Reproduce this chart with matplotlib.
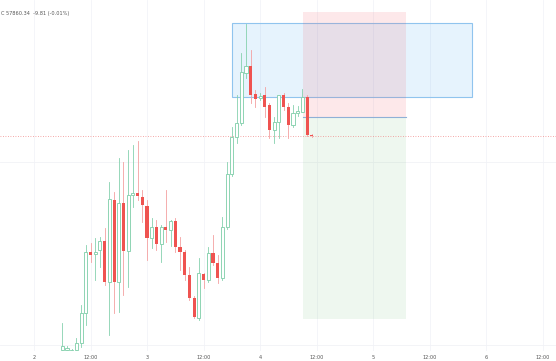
import numpy as np
import matplotlib.pyplot as plt
from matplotlib.patches import Rectangle

# hourly candles, hour counted from day 2 00:00
hours = np.arange(6, 60)
opens = [55720, 55720, 55700, 55720, 55790, 56090, 56700, 56680, 56720, 56810,
         56400, 57220, 56400, 57190, 56710, 57270, 57290, 57250, 57160, 56840,
         56950, 56780, 56950, 56920, 57010, 56750, 56700, 56470, 56240, 56040,
         56480, 56420, 56690, 56590, 56440, 56950, 57480, 57850, 57990, 58490,
         58560, 58280, 58240, 58270, 58170, 57920, 58000, 58270, 58150, 57970,
         58090, 58100, 58250, 57870]
closes = [55760, 55740, 55720, 55790, 56090, 56700, 56670, 56700, 56810, 56400,
          57230, 56400, 57190, 56710, 57270, 57290, 57260, 57170, 56840, 56950,
          56780, 56950, 56920, 57010, 56750, 56700, 56470, 56240, 56050, 56490,
          56420, 56690, 56590, 56440, 56950, 57480, 57850, 57990, 58500, 58560,
          58270, 58230, 58260, 58150, 57920, 58000, 58270, 58150, 57970, 58090,
          58110, 58250, 57870, 57860.34]
highs = [55990, 55760, 55730, 55840, 56170, 56770, 56790, 56840, 56850, 56940,
         57400, 57300, 57640, 57600, 57720, 57770, 57810, 57320, 57220, 57040,
         57020, 56970, 57320, 57020, 57040, 56850, 56720, 56550, 56260, 56640,
         56490, 56750, 56870, 56670, 57050, 57600, 57950, 58270, 58690, 58980,
         58720, 58320, 58290, 58350, 58190, 58050, 58270, 58290, 58190, 58170,
         58160, 58330, 58270, 57880]
lows = [55670, 55700, 55670, 55700, 55750, 55970, 56600, 56420, 56550, 56370,
        55870, 56090, 56100, 56270, 56350, 57150, 57220, 57000, 56620, 56740,
        56720, 56600, 56800, 56760, 56700, 56520, 56420, 56220, 56040, 56020,
        56340, 56400, 56570, 56390, 56420, 56930, 57460, 57790, 57970, 58440,
        58190, 58150, 58220, 58050, 57840, 57790, 57840, 58120, 57840, 57950,
        58060, 58100, 57860, 57850]
last_price = 57860.34

tick_hours = [0, 12, 24, 36, 48, 60, 72, 84, 96, 108]
tick_labels = ["2", "12:00", "3", "12:00", "4", "12:00", "5", "12:00", "6", "12:00"]

# drawings: rectangle, short position (entry / stop / target)
rect_h = (42, 93)
rect_p = (58250, 58990)
pos_h = (57.1, 79)
entry, stop, target = 58050, 59100, 56030

up_col, dn_col = "#86d1ae", "#ef5350"

fig = plt.figure(figsize=(5.56, 3.61), dpi=100)
ax = fig.add_axes([0, 10 / 361, 1, 351 / 361])
ax.set_xlim(-7.22, 110.83)
ax.set_ylim(55710, 59220)

for h in tick_hours:
    ax.axvline(h, color="#f3f4f8", lw=0.6, zorder=0)
for p in [57600, 55770]:
    ax.axhline(p, color="#f1f2f6", lw=0.6, zorder=0)

ax.add_patch(Rectangle((rect_h[0], rect_p[0]), rect_h[1] - rect_h[0], rect_p[1] - rect_p[0],
                       facecolor="#2196f3", alpha=0.11, edgecolor="none", zorder=1))
ax.add_patch(Rectangle((rect_h[0], rect_p[0]), rect_h[1] - rect_h[0], rect_p[1] - rect_p[0],
                       facecolor="none", edgecolor="#90c4ee", lw=0.8, zorder=1))
ax.add_patch(Rectangle((pos_h[0], entry), pos_h[1] - pos_h[0], stop - entry,
                       facecolor="#f23645", alpha=0.11, edgecolor="none", zorder=1))
ax.add_patch(Rectangle((pos_h[0], target), pos_h[1] - pos_h[0], entry - target,
                       facecolor="#4caf50", alpha=0.09, edgecolor="none", zorder=1))
ax.plot(pos_h, [entry, entry], color="#8fb0d6", lw=0.8, zorder=1)

ax.axhline(last_price, color="#f28b8b", lw=0.6, ls=(0, (1, 2)), zorder=2)

w = 0.66
for h, o, c, hi, lo in zip(hours, opens, closes, highs, lows):
    up = c >= o
    col = up_col if up else dn_col
    wick = up_col if up else "#f4a0a0"
    ax.plot([h, h], [lo, min(o, c)], color=wick, lw=0.6, zorder=3)
    ax.plot([h, h], [max(o, c), hi], color=wick, lw=0.6, zorder=3)
    bh = max(abs(c - o), 12)
    ax.add_patch(Rectangle((h - w / 2, min(o, c)), w, bh,
                           facecolor="white" if up else dn_col,
                           edgecolor=col, lw=0.65 if up else 0, zorder=4))

ax.set_xticks(tick_hours)
ax.set_xticklabels(tick_labels, fontsize=3.6, color="#555555")
ax.tick_params(axis="x", length=0, pad=3)
ax.set_yticks([])
for s in ax.spines.values():
    s.set_visible(False)

fig.text(0.001, 1 - 13 / 361, "C 57860.34  -9.81 (-0.01%)", fontsize=3.6,
         color="#555555", va="center", ha="left")

fig.savefig("out.png", dpi=100)
